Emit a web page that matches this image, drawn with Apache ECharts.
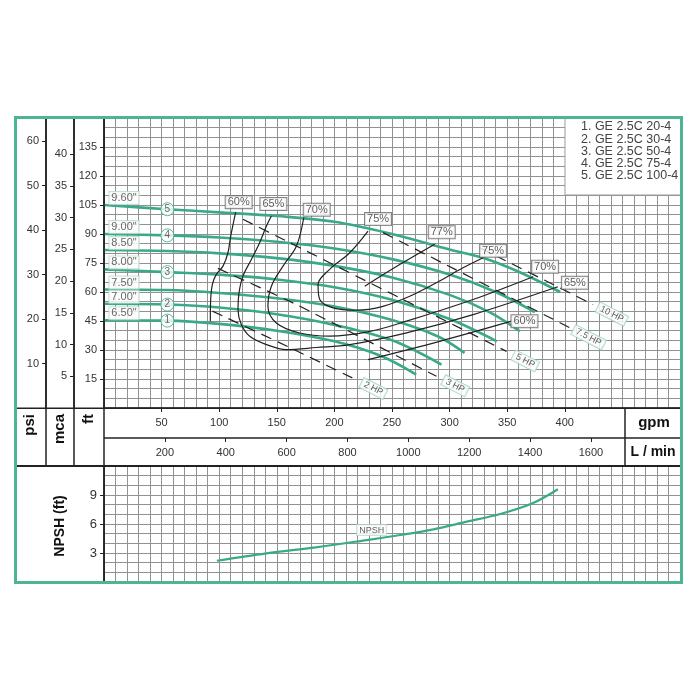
<!DOCTYPE html>
<html><head><meta charset="utf-8">
<script src="https://cdn.jsdelivr.net/npm/echarts@6/dist/echarts.min.js"></script>
<style>html,body{margin:0;padding:0;background:#fff;}#c{width:700px;height:700px;}</style>
</head><body><div id="c"></div>
<script>
// ---------------- DATA ----------------
const diameters = ['9.60"', '9.00"', '8.50"', '8.00"', '7.50"', '7.00"', '6.50"'];
// head curves [gpm, ft]
const curve960 = [[0,105],[55,102.8],[100,101.2],[150,99.3],[200,96.3],[250,90],[300,82],[330,77.5],[360,70.5],[396,60]];
const curve900 = [[0,90],[55,89.3],[100,88.2],[150,86],[200,82.5],[250,77],[300,69],[340,60],[374,49.6]];
const curve850 = [[0,81.7],[55,81.2],[100,80],[150,77.5],[200,73.5],[250,67.5],[300,58.5],[335,49.5],[361,39.7]];
const curve800 = [[0,71.7],[55,70.3],[100,69],[150,66.5],[200,62.5],[250,56],[300,46],[341,34.5]];
const curve750 = [[0,61.3],[55,61],[100,59.5],[150,56.8],[200,52.5],[250,45.5],[290,37],[313,28.5]];
const curve700 = [[0,53.9],[55,53.5],[100,52],[150,48.5],[200,43],[250,35],[293,22.4]];
const curve650 = [[0,45.4],[55,45.2],[100,43.5],[150,40],[200,34.5],[240,27],[271,17.3]];
const modelCurves = ['5', '4', '3', '2', '1'];           // circled numbers
const modelNames = ['1. GE 2.5C 20-4', '2. GE 2.5C 30-4', '3. GE 2.5C 50-4', '4. GE 2.5C 75-4', '5. GE 2.5C 100-4'];
// efficiency iso-lines [gpm, ft]
const eff60Left = [[114.3,101.3],[110.0,88.9],[107.6,80.3],[103.3,73.4],[97.5,69.1],[94.1,63.9],[92.6,56.1],[92.3,44.9]];
const eff60Right = [[229.2,25.0],[291.5,34.5],[353.7,44.9]];
const eff65 = [[145.3,99.3],[141.0,94.1],[135.1,85.5],[127.9,76.8],[120.6,68.2],[117.2,59.6],[116.3,50.9],[119.2,43.2],[126.5,37.1],[141.0,32.8],[158.3,30.2],[184.4,31.3],[213.3,32.8],[262.6,38.9],[320.4,48.3],[394.0,62.7]];
const eff70 = [[173.4,98.4],[167.0,83.7],[155.4,73.4],[145.3,63.0],[142.3,52.6],[149.6,44.0],[169.9,38.8],[196.0,37.2],[230.0,39.5],[262.6,44.9],[320.4,56.1],[372.5,67.9]];
const eff75 = [[229.2,91.5],[213.3,80.3],[195.9,71.7],[185.8,63.9],[187.3,56.1],[198.8,51.8],[219.1,50.6],[242.2,52.6],[265.4,57.8],[288.6,64.8],[311.7,72.5],[329.1,77.7]];
const eff77 = [[226.3,63.0],[256.7,74.2],[287.1,84.7]];
// power lines [gpm, ft]
const hp2 = [[94.1,50.1],[161.2,31.3],[217.6,15.0]];
const hp3 = [[98.9,72.2],[167.0,53.5],[288.6,16.4]];
const hp5 = [[120.6,97.6],[161.2,85.5],[349.4,29.3]];
const hp75 = [[242.2,90.7],[404.4,41.5]];
const hp10 = [[326.2,82.9],[424.6,53.5]];
const hpNames = ['2 HP', '3 HP', '5 HP', '7.5 HP', '10 HP'];
// NPSH [gpm, ft]
const npsh = [[98,2.2],[141,2.97],[184,3.59],[228,4.34],[257,4.86],[286,5.45],[315,6.24],[344,7.03],[372,8.14],[394,9.59]];
// tick labels
const gpmTicks = [50,100,150,200,250,300,350,400];
const lpmTicks = [200,400,600,800,1000,1200,1400,1600];
const psiTicks = [10,20,30,40,50,60];
const mcaTicks = [5,10,15,20,25,30,35,40];
const ftTicks = [15,30,45,60,75,90,105,120,135];
const npshTicks = [3,6,9];

// ---------------- CHART ----------------
const FONT = '"Liberation Sans", Arial, Helvetica, sans-serif';
const GRID_C = '#929292', LINE_C = '#222', CURVE_C = '#3aa98a', FRAME_C = '#4db592';
const FT_PER_PSI = 2.30, FT_PER_M = 3.281, LPM_PER_GPM = 3.7854;
const X_MAX = 500, FT_MAX = 150, NPSH_MAX = 12;
const G0 = {left:104, top:118, width:576, height:290};
const G1 = {left:104, top:466, width:576, height:116};

const only = list => v => (list.indexOf(Math.round(v * 1000) / 1000) >= 0 ? String(v) : '');
const gridX = gi => ({gridIndex:gi, type:'value', min:0, max:X_MAX, interval:10,
  axisLine:{show:false}, axisTick:{show:false}, axisLabel:{show:false},
  splitLine:{show:true, lineStyle:{color:GRID_C, width:1}}});
const lbl = {fontSize:11, color:'#333', fontFamily:FONT};

const heads = [curve960, curve900, curve850, curve800, curve750, curve700, curve650];
const circled = [curve960, curve900, curve800, curve700, curve650];

const series = [];
heads.forEach((c, i) => series.push({type:'line', xAxisIndex:0, yAxisIndex:0, data:c, smooth:0.35,
  showSymbol:false, silent:true, z:4, lineStyle:{color:CURVE_C, width:2.6}}));
series.push({type:'scatter', xAxisIndex:0, yAxisIndex:0, z:8, symbolSize:1, itemStyle:{color:'transparent'},
  data: heads.map((c, i) => ({value:c[0], name:diameters[i]})),
  label:{show:true, position:'inside', offset:[20,-7], formatter:'{b}', fontSize:11, color:'#444', fontFamily:FONT,
    backgroundColor:'#fff', borderColor:'#b9d9cf', borderWidth:1, padding:[1,2,0,2]}});
series.push({type:'scatter', xAxisIndex:0, yAxisIndex:0, z:8, symbol:'circle', symbolSize:13,
  itemStyle:{color:'#fff', borderColor:CURVE_C, borderWidth:1},
  data: circled.map((c, i) => ({value:c[1], name:modelCurves[i]})),
  label:{show:true, position:'inside', formatter:'{b}', fontSize:10, color:'#444', fontFamily:FONT}});

const effLines = [eff60Left, eff60Right, eff65, eff70, eff75, eff77];
effLines.forEach(c => series.push({type:'line', xAxisIndex:0, yAxisIndex:0, data:c, smooth:0.35,
  showSymbol:false, silent:true, z:5, lineStyle:{color:LINE_C, width:1.2}}));
const effLabels = [
  {value:eff60Left[0], name:'60%', off:[3,-10]},
  {value:eff65[0], name:'65%', off:[2,-12]},
  {value:eff70[0], name:'70%', off:[13,-8]},
  {value:eff75[0], name:'75%', off:[10,-12]},
  {value:eff77[eff77.length-1], name:'77%', off:[7,-12]},
  {value:eff75[eff75.length-1], name:'75%', off:[10,-7]},
  {value:eff70[eff70.length-1], name:'70%', off:[12,-10]},
  {value:eff65[eff65.length-1], name:'65%', off:[17,-4]},
  {value:eff60Right[eff60Right.length-1], name:'60%', off:[13,0]}
];
series.push({type:'scatter', xAxisIndex:0, yAxisIndex:0, z:9, symbolSize:1, itemStyle:{color:'transparent'},
  data: effLabels.map(d => ({value:d.value, name:d.name, label:{offset:d.off}})),
  label:{show:true, position:'inside', formatter:'{b}', fontSize:11, color:'#333', fontFamily:FONT,
    backgroundColor:'#fff', borderColor:'#666', borderWidth:1, padding:[1,2,0,2]}});

const hpLines = [hp2, hp3, hp5, hp75, hp10];
hpLines.forEach(c => series.push({type:'line', xAxisIndex:0, yAxisIndex:0, data:c, smooth:0.2,
  showSymbol:false, silent:true, z:5, lineStyle:{color:LINE_C, width:1.2, type:[11,7]}}));
series.push({type:'scatter', xAxisIndex:0, yAxisIndex:0, z:9, symbolSize:1, itemStyle:{color:'transparent'},
  data: hpLines.map((c, i) => ({value:c[c.length-1], name:hpNames[i]})),
  label:{show:true, position:'inside', offset:[21,0], rotate:-27, formatter:'{b}', fontSize:9, color:'#333', fontFamily:FONT,
    backgroundColor:'#fff', borderColor:'#9fd2bf', borderWidth:1, padding:[1,3,0,3]}});

series.push({type:'line', xAxisIndex:3, yAxisIndex:4, data:npsh, smooth:0.35, showSymbol:false, silent:true, z:4,
  lineStyle:{color:CURVE_C, width:2.2}});
series.push({type:'scatter', xAxisIndex:3, yAxisIndex:4, z:9, symbolSize:1, itemStyle:{color:'transparent'},
  data:[{value:npsh[3], name:'NPSH'}],
  label:{show:true, position:'inside', offset:[5,-10], formatter:'{b}', fontSize:9, color:'#333', fontFamily:FONT,
    backgroundColor:'#fff', borderColor:'#b9d9cf', borderWidth:1, padding:[1,2,0,2]}});

// decoration
const L = (x1,y1,x2,y2,w) => ({type:'line', z:60, silent:true, shape:{x1,y1,x2,y2}, style:{stroke:LINE_C, lineWidth:w||1.5}});
const T = (x,y,text,opt) => ({type:'text', z:61, silent:true, x, y, rotation:opt.rot||0,
  style:Object.assign({text, fill:'#111', fontFamily:FONT, fontSize:14, fontWeight:'bold', align:'center', verticalAlign:'middle'}, opt.s||{})});
const graphic = [
  {type:'rect', z:50, silent:true, shape:{x:565, y:118, width:116, height:77}, style:{fill:'#fff', stroke:'#999', lineWidth:1}},
  L(15,408.3,682,408.3), L(104,438,682,438,1.5), L(15,466,682,466,2),
  L(46,117,46,466), L(74,117,74,466), L(104,117,104,582), L(625,408.3,625,466),
  T(30,414,'psi',{rot:Math.PI/2, s:{align:'right', fontSize:15}}),
  T(60,414,'mca',{rot:Math.PI/2, s:{align:'right', fontSize:15}}),
  T(89,414,'ft',{rot:Math.PI/2, s:{align:'right', fontSize:15}}),
  T(654,423,'gpm',{s:{fontSize:15}}),
  T(653,452,'L / min',{s:{fontSize:14}}),
  T(60,526,'NPSH (ft)',{rot:Math.PI/2, s:{fontSize:14}}),
  {type:'rect', z:100, silent:true, shape:{x:15.5, y:117.5, width:666, height:465}, style:{fill:'none', stroke:FRAME_C, lineWidth:3}}
];
modelNames.forEach((n, i) => graphic.push({type:'text', z:61, silent:true, x:581, y:127 + i*12.1,
  style:{text:n, fill:'#444', fontFamily:FONT, fontSize:12.5, align:'left', verticalAlign:'middle'}}));

const option = {
  animation:false,
  backgroundColor:'#fff',
  grid:[Object.assign({outerBoundsMode:'none'}, G0), Object.assign({outerBoundsMode:'none'}, G1)],
  xAxis:[
    gridX(0),
    {gridIndex:0, type:'value', position:'bottom', min:0, max:X_MAX, interval:50, splitLine:{show:false},
      axisLine:{show:true, onZero:false, lineStyle:{color:LINE_C, width:1.5}},
      axisTick:{show:true, length:4, lineStyle:{color:LINE_C}, customValues:gpmTicks},
      axisLabel:Object.assign({formatter:only(gpmTicks), margin:9, customValues:gpmTicks}, lbl)},
    {gridIndex:0, type:'value', position:'bottom', offset:30, min:0, max:X_MAX*LPM_PER_GPM, interval:200, splitLine:{show:false},
      axisLine:{show:false, onZero:false},
      axisTick:{show:true, length:4, lineStyle:{color:LINE_C}, customValues:lpmTicks},
      axisLabel:Object.assign({formatter:only(lpmTicks), margin:9, customValues:lpmTicks}, lbl)},
    gridX(1)
  ],
  yAxis:[
    {gridIndex:0, type:'value', min:0, max:FT_MAX, interval:5, axisLine:{show:false}, axisTick:{show:false}, axisLabel:{show:false},
      splitLine:{show:true, lineStyle:{color:GRID_C, width:1}}},
    {gridIndex:0, type:'value', position:'left', offset:0, min:0, max:FT_MAX, interval:15, splitLine:{show:false},
      axisLine:{show:true, onZero:false, lineStyle:{color:LINE_C, width:1.5}},
      axisTick:{show:true, length:4, lineStyle:{color:LINE_C}, customValues:ftTicks},
      axisLabel:Object.assign({formatter:only(ftTicks), margin:7, customValues:ftTicks}, lbl)},
    {gridIndex:0, type:'value', position:'left', offset:58, min:0, max:FT_MAX/FT_PER_PSI, interval:10, splitLine:{show:false},
      axisLine:{show:true, onZero:false, lineStyle:{color:LINE_C, width:1.5}},
      axisTick:{show:true, length:4, lineStyle:{color:LINE_C}, customValues:psiTicks},
      axisLabel:Object.assign({formatter:only(psiTicks), margin:7, customValues:psiTicks}, lbl)},
    {gridIndex:0, type:'value', position:'left', offset:30, min:0, max:FT_MAX/FT_PER_M, interval:5, splitLine:{show:false},
      axisLine:{show:true, onZero:false, lineStyle:{color:LINE_C, width:1.5}},
      axisTick:{show:true, length:4, lineStyle:{color:LINE_C}, customValues:mcaTicks},
      axisLabel:Object.assign({formatter:only(mcaTicks), margin:7, customValues:mcaTicks}, lbl)},
    {gridIndex:1, type:'value', min:0, max:NPSH_MAX, interval:1, axisLine:{show:false}, axisTick:{show:false}, axisLabel:{show:false},
      splitLine:{show:true, lineStyle:{color:GRID_C, width:1}}},
    {gridIndex:1, type:'value', position:'left', min:0, max:NPSH_MAX, interval:3, splitLine:{show:false},
      axisLine:{show:true, onZero:false, lineStyle:{color:LINE_C, width:1.5}},
      axisTick:{show:true, length:4, lineStyle:{color:LINE_C}, customValues:npshTicks},
      axisLabel:Object.assign({formatter:only(npshTicks), margin:7, customValues:npshTicks}, lbl, {fontSize:13})}
  ],
  series,
  graphic
};
const chart = echarts.init(document.getElementById('c'));
chart.setOption(option);
</script>
</body></html>
